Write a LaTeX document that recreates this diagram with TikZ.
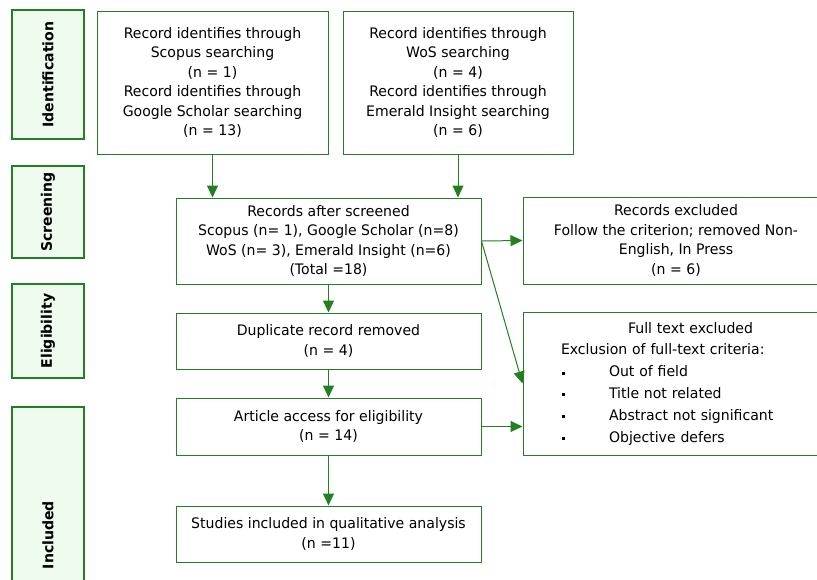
\documentclass[tikz,border=0pt]{standalone}
\usepackage{fontspec}
\setmainfont[FakeStretch=0.97]{DejaVu Sans}
\usetikzlibrary{arrows.meta}
\definecolor{prisma}{RGB}{34,128,34}
\definecolor{stagefill}{RGB}{238,251,238}
\tikzset{
 box/.style={draw=prisma, line width=1pt, align=center, inner sep=0pt, font=\fontsize{14.5}{19.5}\selectfont},
 stage/.style={draw=prisma, line width=1.4pt, fill=stagefill, rotate=90, inner sep=0pt, minimum height=72pt, font=\fontsize{14.5}{18}\selectfont\bfseries},
 flow/.style={draw=prisma, line width=1pt, -{Triangle[length=12pt,width=11pt]}}
}
\begin{document}
\begin{tikzpicture}[x=1pt,y=-1pt]
\useasboundingbox (0,0) rectangle (817,579);
\clip (0,0) rectangle (817,579);
% stages
\node[stage, minimum width=129pt] (ident) at (48,74.5) {Identification};
\node[stage, minimum width=92pt] (screen) at (48,212) {Screening};
\node[stage, minimum width=94pt] (elig) at (48,331) {Eligibility};
\node[stage, minimum width=256pt] (incl) at (48,535) {Included};
% records
\node[box, minimum width=231pt, minimum height=143pt] (scopus) at (212.5,82.5) {Record identifies through\\Scopus searching\\(n = 1)\\Record identifies through\\Google Scholar searching\\(n = 13)};
\node[box, minimum width=230pt, minimum height=143pt] (wos) at (458,82.5) {Record identifies through\\WoS searching\\(n = 4)\\Record identifies through\\Emerald Insight searching\\(n = 6)};
\node[box, minimum width=305pt, minimum height=86pt] (screened) at (328.5,241) {Records after screened\\Scopus (n= 1), Google Scholar (n=8)\\WoS (n= 3), Emerald Insight (n=6)\\(Total =18)};
\node[box, minimum width=306pt, minimum height=87pt] (recexcl) at (676,240.5) {Records excluded\\Follow the criterion; removed Non-\\English, In Press\\(n = 6)};
\node[box, minimum width=305pt, minimum height=56pt] (dup) at (328.5,341) {Duplicate record removed\\(n = 4)};
\node[box, minimum width=305pt, minimum height=57pt] (access) at (328.5,426.5) {Article access for eligibility\\(n = 14)};
\node[box, minimum width=305pt, minimum height=56pt] (studies) at (328.5,534) {Studies included in qualitative analysis\\(n =11)};
\node[box, minimum width=306pt, minimum height=143pt, text width=306pt, align=left, font=\fontsize{14.5}{21.8}\selectfont] (fullexcl) at (676,383.5)
 {\hspace*{105pt}Full text excluded\\
  \hspace*{38pt}Exclusion of full-text criteria:\\
  \hspace*{39pt}\rule[2pt]{3pt}{3pt}\hspace*{44pt}Out of field\\
  \hspace*{39pt}\rule[2pt]{3pt}{3pt}\hspace*{44pt}Title not related\\
  \hspace*{39pt}\rule[2pt]{3pt}{3pt}\hspace*{44pt}Abstract not significant\\
  \hspace*{39pt}\rule[2pt]{3pt}{3pt}\hspace*{44pt}Objective defers};
% arrows
\draw[flow] (scopus.south) -- (scopus.south |- screened.north);
\draw[flow] (wos.south) -- (wos.south |- screened.north);
\draw[flow] (screened.east) -- (recexcl.west);
\draw[flow] (screened.east) -- (fullexcl.west);
\draw[flow] (screened.south) -- (dup.north);
\draw[flow] (dup.south) -- (access.north);
\draw[flow] (access.east) -- (access.east -| fullexcl.west);
\draw[flow] (access.south) -- (studies.north);
\end{tikzpicture}
\end{document}
